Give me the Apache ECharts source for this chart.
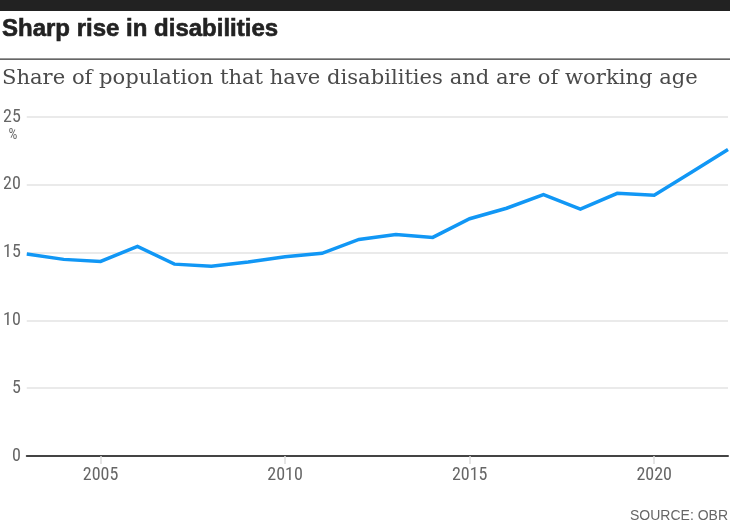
<!DOCTYPE html>
<html>
<head>
<meta charset="utf-8">
<script src="https://cdn.jsdelivr.net/npm/echarts@6/dist/echarts.min.js"></script>
<style>
html,body{margin:0;padding:0;background:#fff;}
#chart{width:730px;height:525px;}
</style>
</head>
<body>
<div id="chart"></div>
<script>
const years = ['2003','2004','2005','2006','2007','2008','2009','2010','2011','2012','2013','2014','2015','2016','2017','2018','2019','2020','2021','2022'];
const share = [14.9,14.5,14.35,15.45,14.15,14.0,14.3,14.7,14.95,15.97,16.34,16.12,17.5,18.27,19.27,18.2,19.37,19.23,20.9,22.6];
const yTicks = [0,5,10,15,20,25];
const xTickYears = ['2005','2010','2015','2020'];

const titleText = 'Sharp rise in disabilities';
const subtitleText = 'Share of population that have disabilities and are of working age';
const sourceText = 'SOURCE: OBR';

const axisFont = "'Liberation Sans Narrow','Roboto Condensed','Liberation Sans',sans-serif";

const chart = echarts.init(document.getElementById('chart'), null, {renderer:'canvas'});
chart.setOption({
  backgroundColor:'#fff',
  animation:false,
  grid:{left:24,right:2,top:117,bottom:69,containLabel:false},
  xAxis:{
    type:'category',
    data:years,
    boundaryGap:false,
    axisLine:{show:true,lineStyle:{color:'#444',width:2}},
    axisTick:{show:true,length:8,lineStyle:{color:'#ddd',width:1.5},
      interval:(i,v)=>xTickYears.indexOf(v)>=0},
    axisLabel:{color:'#666',fontSize:18,fontFamily:axisFont,margin:10,
      interval:(i,v)=>xTickYears.indexOf(v)>=0},
    splitLine:{show:false}
  },
  yAxis:{
    type:'value',
    min:yTicks[0],max:yTicks[yTicks.length-1],interval:5,
    axisLine:{show:false},axisTick:{show:false},
    axisLabel:{color:'#666',fontSize:18,fontFamily:axisFont,margin:6},
    splitLine:{show:true,lineStyle:{color:'#e3e3e3',width:1.5}}
  },
  series:[{
    type:'line',
    data:share,
    symbol:'none',
    lineStyle:{color:'#1197f5',width:3.5,join:'miter'},
    z:5
  }],
  graphic:[
    {type:'rect',shape:{x:0,y:0,width:730,height:11},style:{fill:'#222'}},
    {type:'text',x:2,y:29,style:{text:titleText,font:"bold 24px 'Liberation Sans',Arial,sans-serif",fill:'#222',stroke:'#222',lineWidth:0.6,textVerticalAlign:'middle'}},
    {type:'rect',shape:{x:0,y:58.5,width:730,height:1.2},style:{fill:'#333'}},
    {type:'text',x:2,y:79,style:{text:subtitleText,font:"21.1px 'DejaVu Serif',Georgia,serif",fill:'#4a4a4a',textVerticalAlign:'middle'}},
    {type:'text',x:13,y:135,style:{text:'%',font:"14px "+axisFont,fill:'#666',textAlign:'center',textVerticalAlign:'middle'}},
    {type:'text',x:728,y:516,style:{text:sourceText,font:"14px 'Liberation Sans',Arial,sans-serif",fill:'#666',textAlign:'right',textVerticalAlign:'middle'}}
  ]
});
</script>
</body>
</html>
